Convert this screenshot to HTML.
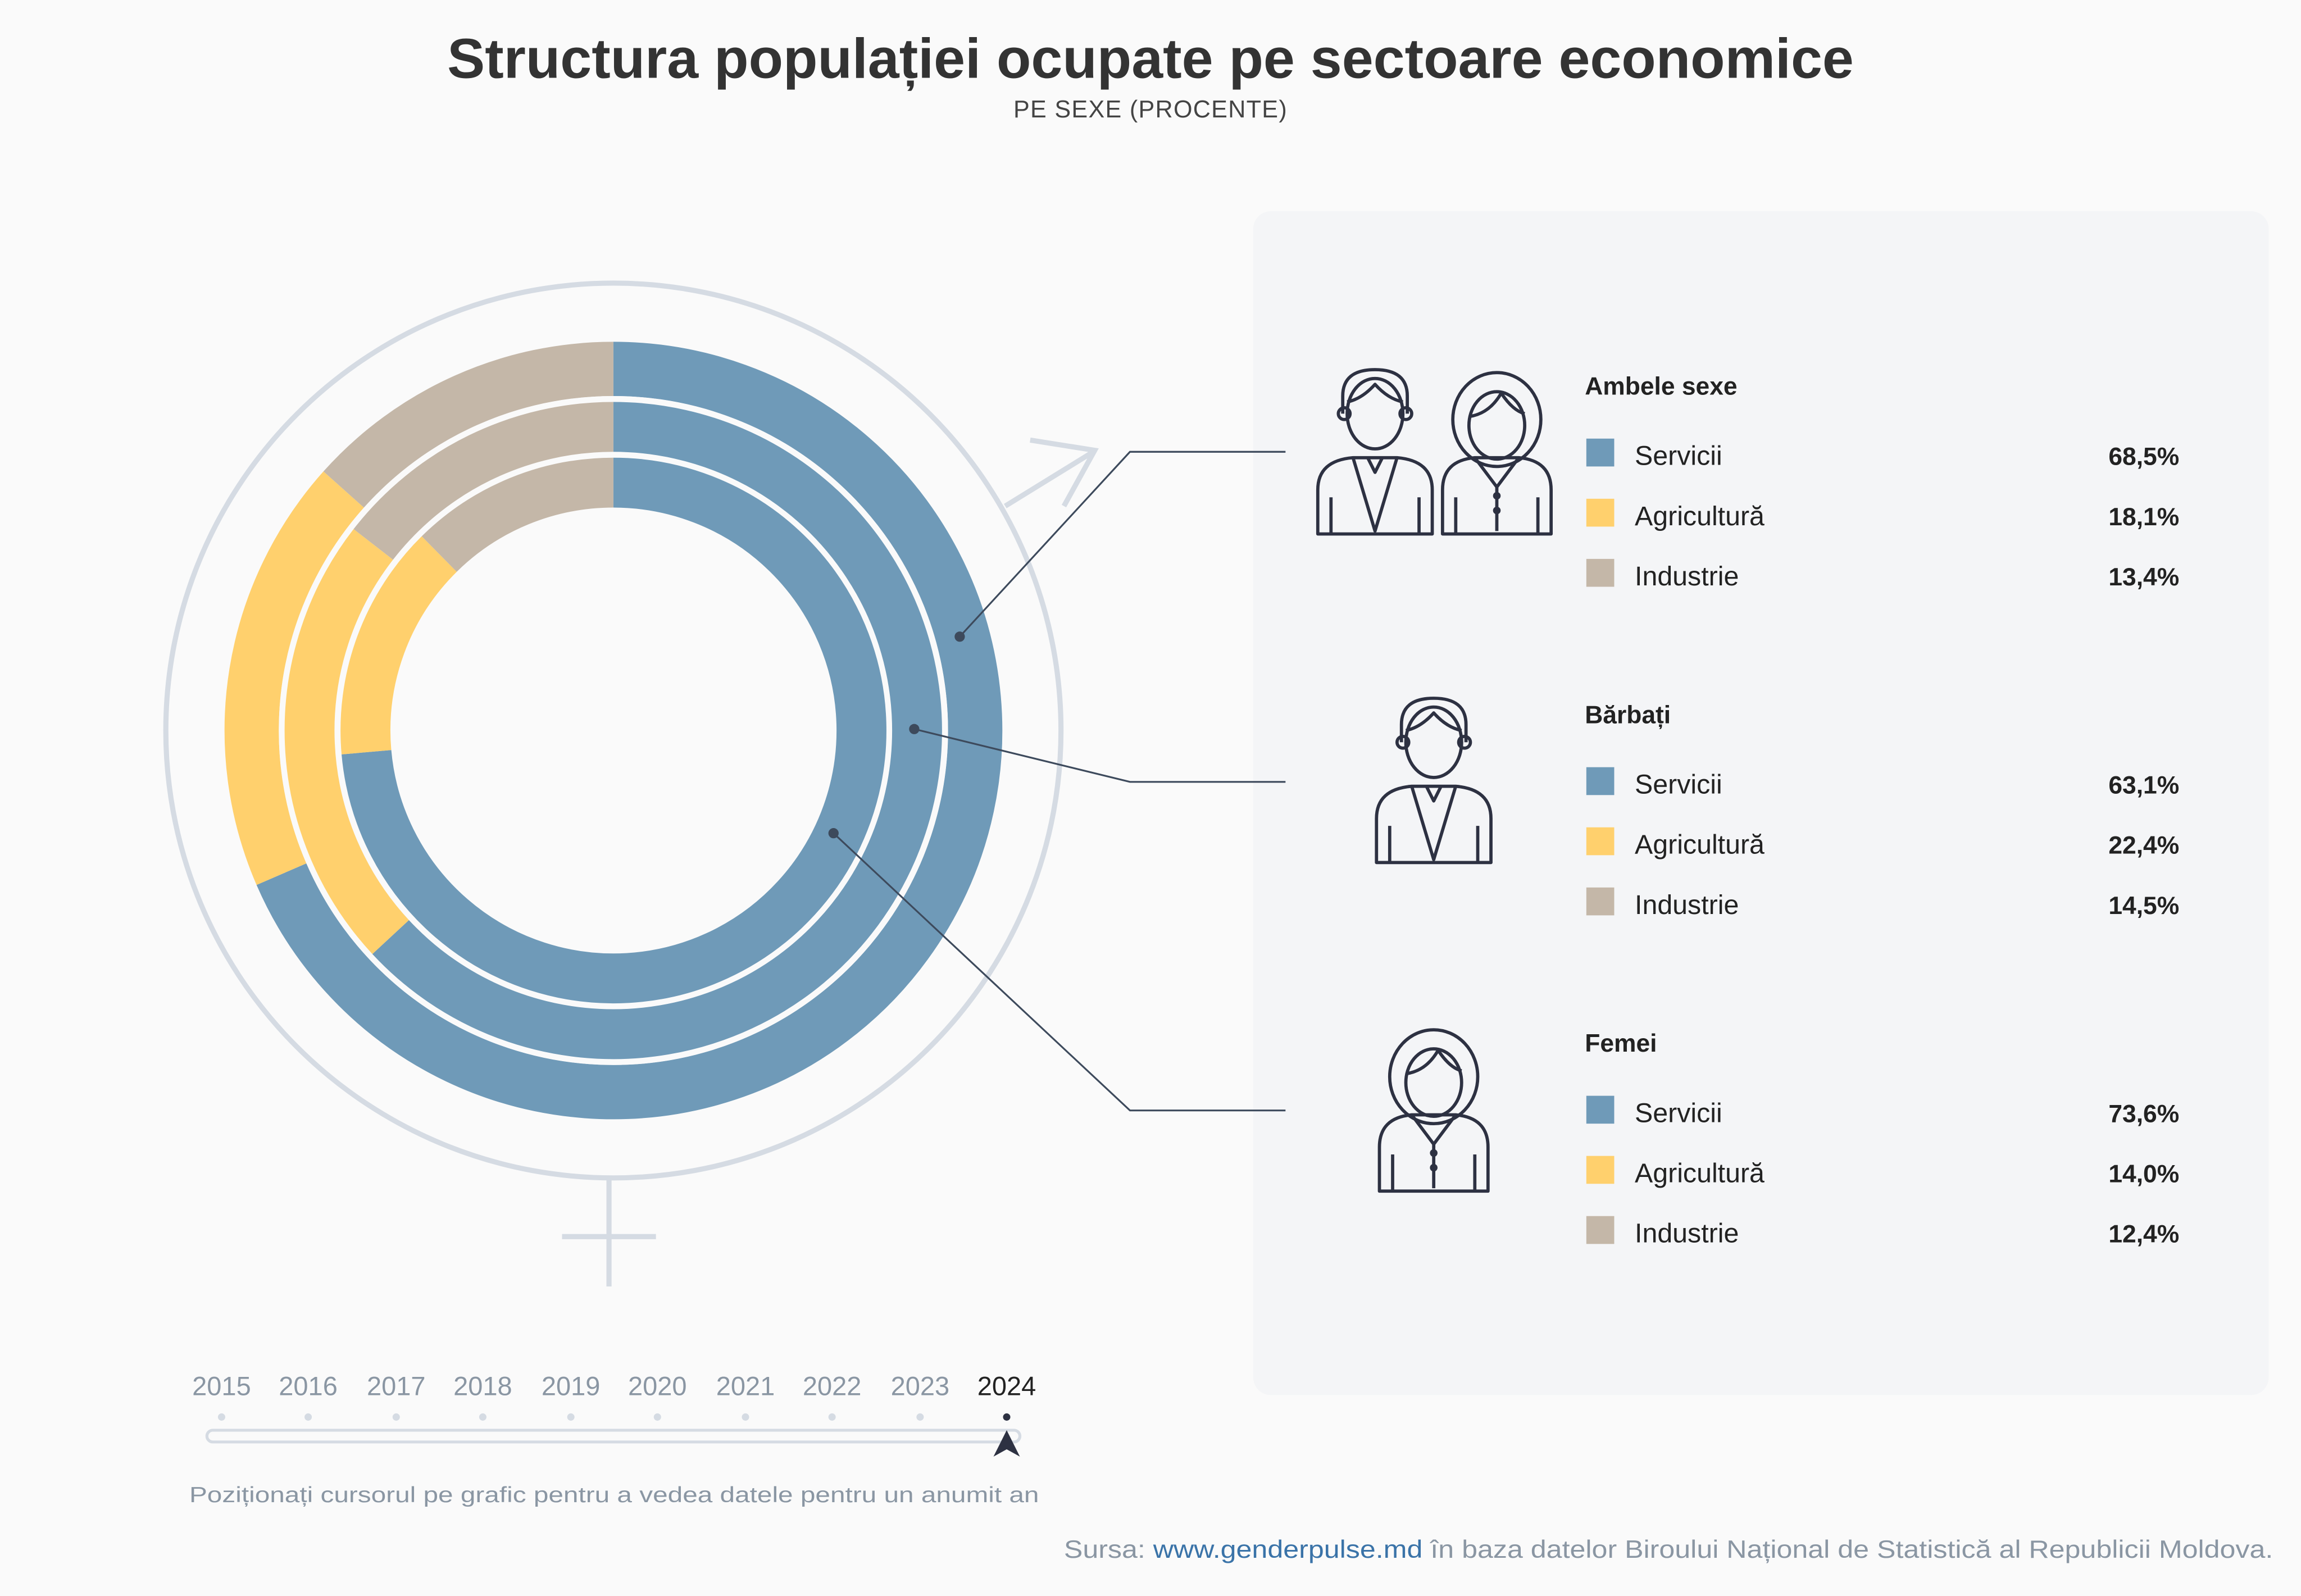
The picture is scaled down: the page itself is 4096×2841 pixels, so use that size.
<!DOCTYPE html>
<html><head><meta charset="utf-8"><style>
html,body{margin:0;padding:0;background:#fafafa;}
svg{display:block;}
text{font-family:"Liberation Sans",sans-serif;}
</style></head><body>
<svg width="4096" height="2841" viewBox="0 0 1568 1088" preserveAspectRatio="none" xmlns="http://www.w3.org/2000/svg">
<rect width="1568" height="1088" fill="#fafafa"/>
<text x="784" y="53" text-anchor="middle" font-size="38.5" font-weight="bold" fill="#333">Structura populației ocupate pe sectoare economice</text>
<text x="784" y="80" text-anchor="middle" font-size="16.5" fill="#444" letter-spacing="0.5">PE SEXE (PROCENTE)</text>

<rect x="854" y="144" width="692" height="807" rx="12" fill="#f4f5f7"/>

<g stroke="#d5dbe3" stroke-width="3.5" fill="none">
<circle cx="418" cy="498" r="305"/>
<line x1="685" y1="345" x2="745" y2="308"/>
<polyline points="702,300 746,307 725,345"/>
<line x1="415" y1="803" x2="415" y2="877"/>
<line x1="383" y1="843" x2="447" y2="843"/>
</g>

<g fill="none">
<path d="M418,251.5 A246.5,246.5 0 1 1 191.8,595.9" stroke="#6f9ab8" stroke-width="37"/>
<path d="M191.8,595.9 A246.5,246.5 0 0 1 234.2,333.7" stroke="#ffd06d" stroke-width="37"/>
<path d="M234.2,333.7 A246.5,246.5 0 0 1 418,251.5" stroke="#c4b7a8" stroke-width="37"/>
<path d="M418,291 A207,207 0 1 1 266.2,638.8" stroke="#6f9ab8" stroke-width="34"/>
<path d="M266.2,638.8 A207,207 0 0 1 254.4,371.1" stroke="#ffd06d" stroke-width="34"/>
<path d="M254.4,371.1 A207,207 0 0 1 418,291" stroke="#c4b7a8" stroke-width="34"/>
<path d="M418,329 A169,169 0 1 1 249.7,512.8" stroke="#6f9ab8" stroke-width="34"/>
<path d="M249.7,512.8 A169,169 0 0 1 299.3,377.7" stroke="#ffd06d" stroke-width="34"/>
<path d="M299.3,377.7 A169,169 0 0 1 418,329" stroke="#c4b7a8" stroke-width="34"/>
</g>
<g fill="none" stroke="#fafafa" stroke-width="3"><circle cx="418" cy="498" r="226.5"/><circle cx="418" cy="498" r="188"/></g>

<g stroke="#3d4a5c" stroke-width="1.2" fill="none">
<polyline points="654,434 770,308 876,308"/>
<polyline points="623,497 770,533 876,533"/>
<polyline points="568,568 770,757 876,757"/>
</g>
<g fill="#3d4a5c"><circle cx="654" cy="434" r="3.5"/><circle cx="623" cy="497" r="3.5"/><circle cx="568" cy="568" r="3.5"/></g>

<defs>
<g id="man" fill="none" stroke="#2d3142" stroke-width="2.2" stroke-linejoin="round">
<path d="M-22,-38 q0,-18 22,-18 q22,0 22,18 l0,12 M-22,-26 l0,-12"/>
<ellipse cx="0" cy="-26" rx="19" ry="24"/>
<path d="M-19,-34 q10,-2 19,-12 q9,10 19,12"/>
<circle cx="-21" cy="-26" r="4"/><circle cx="21" cy="-26" r="4"/>
<path d="M-39,56 l0,-30 q0,-20 24,-22 l15,0 l15,0 q24,2 24,22 l0,30 z"/>
<path d="M-15,4 l15,50 l15,-50 M-5,4 l5,10 l5,-10 M-30,56 l0,-25 M30,56 l0,-25"/>
</g>
<g id="woman" fill="none" stroke="#2d3142" stroke-width="2.2" stroke-linejoin="round">
<ellipse cx="0" cy="-22" rx="30" ry="32"/>
<ellipse cx="0" cy="-18" rx="19" ry="23"/>
<path d="M-19,-24 q14,-2 22,-16 q8,12 16,14"/>
<path d="M-37,56 l0,-30 q0,-20 22,-22 l30,0 q22,2 22,22 l0,30 z"/>
<path d="M-15,4 l15,20 l15,-20 M0,24 l0,30 M-28,56 l0,-25 M28,56 l0,-25"/>
<circle cx="0" cy="30" r="1.5"/><circle cx="0" cy="40" r="1.5"/>
</g>
</defs>
<use href="#man" x="937" y="308"/>
<use href="#woman" x="1020" y="308"/>
<use href="#man" x="977" y="532"/>
<use href="#woman" x="977" y="756"/>

<g font-size="18.5" fill="#222">
<text x="1080" y="269" font-size="17" font-weight="bold">Ambele sexe</text>
<rect x="1081" y="299" width="19" height="19" fill="#6f9ab8"/><text x="1114" y="317">Servicii</text><text x="1485" y="317" text-anchor="end" font-weight="bold" font-size="17">68,5%</text>
<rect x="1081" y="340" width="19" height="19" fill="#ffd06d"/><text x="1114" y="358">Agricultură</text><text x="1485" y="358" text-anchor="end" font-weight="bold" font-size="17">18,1%</text>
<rect x="1081" y="381" width="19" height="19" fill="#c4b7a8"/><text x="1114" y="399">Industrie</text><text x="1485" y="399" text-anchor="end" font-weight="bold" font-size="17">13,4%</text>

<text x="1080" y="493" font-size="17" font-weight="bold">Bărbați</text>
<rect x="1081" y="523" width="19" height="19" fill="#6f9ab8"/><text x="1114" y="541">Servicii</text><text x="1485" y="541" text-anchor="end" font-weight="bold" font-size="17">63,1%</text>
<rect x="1081" y="564" width="19" height="19" fill="#ffd06d"/><text x="1114" y="582">Agricultură</text><text x="1485" y="582" text-anchor="end" font-weight="bold" font-size="17">22,4%</text>
<rect x="1081" y="605" width="19" height="19" fill="#c4b7a8"/><text x="1114" y="623">Industrie</text><text x="1485" y="623" text-anchor="end" font-weight="bold" font-size="17">14,5%</text>

<text x="1080" y="717" font-size="17" font-weight="bold">Femei</text>
<rect x="1081" y="747" width="19" height="19" fill="#6f9ab8"/><text x="1114" y="765">Servicii</text><text x="1485" y="765" text-anchor="end" font-weight="bold" font-size="17">73,6%</text>
<rect x="1081" y="788" width="19" height="19" fill="#ffd06d"/><text x="1114" y="806">Agricultură</text><text x="1485" y="806" text-anchor="end" font-weight="bold" font-size="17">14,0%</text>
<rect x="1081" y="829" width="19" height="19" fill="#c4b7a8"/><text x="1114" y="847">Industrie</text><text x="1485" y="847" text-anchor="end" font-weight="bold" font-size="17">12,4%</text>
</g>

<g font-size="18" fill="#8a96a3" text-anchor="middle">
<text x="151" y="951">2015</text><text x="210" y="951">2016</text><text x="270" y="951">2017</text><text x="329" y="951">2018</text><text x="389" y="951">2019</text><text x="448" y="951">2020</text><text x="508" y="951">2021</text><text x="567" y="951">2022</text><text x="627" y="951">2023</text><text x="686" y="951" fill="#222">2024</text>
</g>
<g fill="#d5dbe3"><circle cx="151" cy="966" r="2.5"/><circle cx="210" cy="966" r="2.5"/><circle cx="270" cy="966" r="2.5"/><circle cx="329" cy="966" r="2.5"/><circle cx="389" cy="966" r="2.5"/><circle cx="448" cy="966" r="2.5"/><circle cx="508" cy="966" r="2.5"/><circle cx="567" cy="966" r="2.5"/><circle cx="627" cy="966" r="2.5"/></g>
<circle cx="686" cy="966" r="2.5" fill="#2d3142"/>
<rect x="141" y="975" width="554" height="8" rx="4" fill="none" stroke="#d5dbe3" stroke-width="2"/>
<path d="M686,975 L695,993 L686,988 L677,993 Z" fill="#2d3142"/>
<text x="129" y="1024" font-size="15" fill="#8a96a3" textLength="579" lengthAdjust="spacingAndGlyphs">Poziționați cursorul pe grafic pentru a vedea datele pentru un anumit an</text>
<text x="725" y="1062" font-size="17" fill="#8a96a3" textLength="824" lengthAdjust="spacingAndGlyphs">Sursa: <tspan fill="#3a73a8">www.genderpulse.md</tspan> în baza datelor Biroului Național de Statistică al Republicii Moldova.</text>
</svg>
</body></html>
